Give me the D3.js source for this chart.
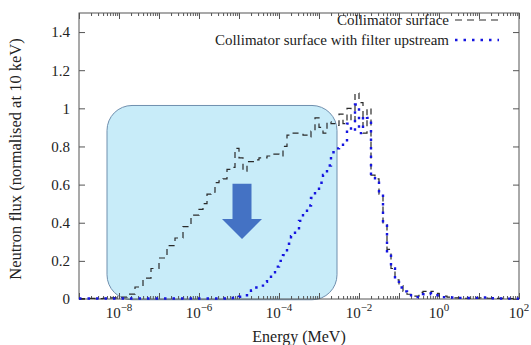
<!DOCTYPE html>
<html>
<head>
<meta charset="utf-8">
<script src="https://cdn.jsdelivr.net/npm/d3@7"></script>
<style>
  body { margin: 0; background: #fff; }
  text { font-family: "Liberation Serif", "Times New Roman", serif; fill: #222; }
</style>
</head>
<body>
<svg id="chart" width="531" height="345"></svg>
<script>
// bin lower edges, log10(E / MeV); last entry closes the final bin
const logEdges = [
  -9.0, -8.8, -8.6, -8.4, -8.2, -8.0, -7.8, -7.6, -7.4, -7.2, -7.0, -6.8, -6.6, -6.4, -6.2,
  -6.0, -5.9, -5.8, -5.7, -5.6, -5.5, -5.4, -5.3, -5.2, -5.1,
  -5.0, -4.9, -4.8, -4.7, -4.6, -4.5, -4.4, -4.3, -4.2, -4.1,
  -4.0, -3.9, -3.8, -3.7, -3.6, -3.5, -3.4, -3.3, -3.2, -3.1,
  -3.0, -2.9, -2.8, -2.7, -2.6, -2.5, -2.4, -2.3, -2.2, -2.1,
  -2.0, -1.9, -1.8, -1.7, -1.6, -1.5, -1.4, -1.3, -1.2, -1.1,
  -1.0, -0.9, -0.8, -0.7, -0.6, -0.5, -0.4, -0.3, -0.2, -0.1,
  0.0, 0.2, 0.4, 0.6, 0.8, 1.0, 1.2, 1.4, 1.6, 1.8, 2.0
];

const collimator = [
  0.002, 0.003, 0.002, 0.004, 0.006, 0.01, 0.026, 0.063, 0.11, 0.16, 0.215, 0.28, 0.32, 0.38, 0.44,
  0.47, 0.50, 0.55, 0.56, 0.61, 0.62, 0.63, 0.68, 0.69, 0.79,
  0.74, 0.67, 0.72, 0.72, 0.73, 0.74, 0.74, 0.75, 0.76, 0.76,
  0.75, 0.80, 0.86, 0.87, 0.87, 0.87, 0.86, 0.85, 0.88, 0.95,
  0.90, 0.87, 0.93, 0.92, 0.91, 0.97, 0.92, 1.00, 0.93, 1.08,
  1.03, 0.87, 1.00, 0.65, 0.63, 0.55, 0.39, 0.26, 0.16, 0.10,
  0.07, 0.04, 0.025, 0.015, 0.015, 0.035, 0.04, 0.03, 0.04, 0.03,
  0.015, 0.01, 0.006, 0.004, 0.004, 0.006, 0.004, 0.003, 0.002, 0.002
];

const withFilter = [
  0.003, 0.003, 0.003, 0.003, 0.003, 0.003, 0.003, 0.003, 0.003, 0.003, 0.003, 0.003, 0.003, 0.003, 0.003,
  0.003, 0.003, 0.003, 0.003, 0.003, 0.003, 0.003, 0.003, 0.005, 0.008,
  0.012, 0.02, 0.03, 0.045, 0.06, 0.07, 0.09, 0.11, 0.14, 0.17,
  0.20, 0.23, 0.29, 0.33, 0.36, 0.41, 0.45, 0.49, 0.53, 0.57,
  0.61, 0.65, 0.70, 0.77, 0.79, 0.80, 0.82, 0.92, 0.88, 1.02,
  0.87, 0.96, 0.95, 0.64, 0.62, 0.55, 0.40, 0.25, 0.16, 0.09,
  0.06, 0.04, 0.02, 0.012, 0.01, 0.02, 0.025, 0.03, 0.025, 0.02,
  0.01, 0.008, 0.006, 0.005, 0.006, 0.008, 0.004, 0.003, 0.002, 0.002
];

const seriesNames = ["Collimator surface", "Collimator surface with filter upstream"];
const yTicks = [0, 0.2, 0.4, 0.6, 0.8, 1, 1.2, 1.4];
const xDecades = [-9, -8, -7, -6, -5, -4, -3, -2, -1, 0, 1, 2];
const xLabelled = [-8, -6, -4, -2, 0, 2];

// highlighted region and arrow (data coordinates)
const boxE = [Math.pow(10, -8.3), Math.pow(10, -2.55)];
const boxV = [1.015, -0.004];
const arrowE = Math.pow(10, -4.925);
const arrowV = { top: 0.605, base: 0.42, tip: 0.315 };

const svg = d3.select("#chart");
const mLeft = 79, mRight = 519, mTop = 13, mBottom = 299;

const x = d3.scaleLog().domain([1e-9, 1e2]).range([mLeft, mRight]);
const y = d3.scaleLinear().domain([0, 1.5]).range([mBottom, mTop]);

// highlight box
svg.append("rect")
  .attr("x", x(boxE[0]))
  .attr("y", y(boxV[0]))
  .attr("width", x(boxE[1]) - x(boxE[0]))
  .attr("height", y(boxV[1]) - y(boxV[0]))
  .attr("rx", 25).attr("ry", 25)
  .attr("fill", "#c8ecf9")
  .attr("stroke", "#6f8fae")
  .attr("stroke-width", 1);

// arrow
const ax = x(arrowE);
const arrowPts = [
  [ax - 9.5, y(arrowV.top)], [ax + 9.5, y(arrowV.top)],
  [ax + 9.5, y(arrowV.base)], [ax + 20, y(arrowV.base)],
  [ax, y(arrowV.tip)],
  [ax - 20, y(arrowV.base)], [ax - 9.5, y(arrowV.base)]
];
svg.append("polygon")
  .attr("points", arrowPts.map(p => p.join(",")).join(" "))
  .attr("fill", "#4472c4");

// frame
svg.append("rect")
  .attr("x", mLeft).attr("y", mTop)
  .attr("width", mRight - mLeft).attr("height", mBottom - mTop)
  .attr("fill", "none").attr("stroke", "#555").attr("stroke-width", 1);

// ticks
const majorX = xDecades.map(d => Math.pow(10, d));
const minorX = [];
xDecades.slice(0, -1).forEach(d => {
  for (let k = 2; k < 10; k++) minorX.push(k * Math.pow(10, d));
});

function styleAxis(g) {
  g.select(".domain").remove();
  g.selectAll("line").attr("stroke", "#555");
}

svg.append("g").attr("transform", "translate(0," + mBottom + ")")
  .call(d3.axisBottom(x).tickValues(majorX).tickSize(-6).tickFormat(""))
  .call(styleAxis);
svg.append("g").attr("transform", "translate(0," + mBottom + ")")
  .call(d3.axisBottom(x).tickValues(minorX).tickSize(-3).tickFormat(""))
  .call(styleAxis);
svg.append("g").attr("transform", "translate(0," + mTop + ")")
  .call(d3.axisTop(x).tickValues(majorX).tickSize(-6).tickFormat(""))
  .call(styleAxis);
svg.append("g").attr("transform", "translate(0," + mTop + ")")
  .call(d3.axisTop(x).tickValues(minorX).tickSize(-3).tickFormat(""))
  .call(styleAxis);

const yAxis = svg.append("g").attr("transform", "translate(" + mLeft + ",0)")
  .call(d3.axisLeft(y).tickValues(yTicks).tickSize(-6).tickPadding(9).tickFormat(d3.format("")))
  .call(styleAxis);
yAxis.selectAll("text")
  .style("font-family", "'Liberation Serif', serif")
  .style("font-size", "15px")
  .attr("fill", "#222");
svg.append("g").attr("transform", "translate(" + mRight + ",0)")
  .call(d3.axisRight(y).tickValues(yTicks).tickSize(-6).tickFormat(""))
  .call(styleAxis);

// x tick labels with superscripts
xLabelled.forEach(d => {
  const t = svg.append("text")
    .attr("x", x(Math.pow(10, d)))
    .attr("y", 318)
    .attr("text-anchor", "middle")
    .style("font-size", "15px");
  t.append("tspan").text("10");
  t.append("tspan").attr("dy", -7).style("font-size", "11px")
    .text(d < 0 ? "\u2212" + (-d) : String(d));
});

// axis titles
svg.append("text")
  .attr("x", (mLeft + mRight) / 2)
  .attr("y", 342)
  .attr("text-anchor", "middle")
  .style("font-size", "16px")
  .text("Energy (MeV)");

svg.append("text")
  .attr("transform", "translate(21,159) rotate(-90)")
  .attr("text-anchor", "middle")
  .style("font-size", "16.5px")
  .text("Neutron flux (normalised at 10 keV)");

// histogram lines
function toPoints(values) {
  const pts = values.map((v, i) => [Math.pow(10, logEdges[i]), v]);
  pts.push([Math.pow(10, logEdges[values.length]), values[values.length - 1]]);
  return pts;
}
const line = d3.line()
  .x(d => x(d[0]))
  .y(d => y(d[1]))
  .curve(d3.curveStepAfter);

svg.append("path")
  .datum(toPoints(collimator))
  .attr("d", line)
  .attr("fill", "none")
  .attr("stroke", "#2a2a2a")
  .attr("stroke-width", 1.2)
  .attr("stroke-dasharray", "6,5");

svg.append("path")
  .datum(toPoints(withFilter))
  .attr("d", line)
  .attr("fill", "none")
  .attr("stroke", "#1515e0")
  .attr("stroke-width", 2.4)
  .attr("stroke-dasharray", "2.5,6");

// legend
const legend = [
  { name: seriesNames[0], y: 20, stroke: "#2a2a2a", w: 1.2, dash: "7,5" },
  { name: seriesNames[1], y: 40, stroke: "#1515e0", w: 2.4, dash: "2.5,6" }
];
legend.forEach(l => {
  svg.append("text")
    .attr("x", 449).attr("y", l.y + 5)
    .attr("text-anchor", "end")
    .style("font-size", "15px")
    .text(l.name);
  svg.append("line")
    .attr("x1", 455).attr("x2", 499)
    .attr("y1", l.y).attr("y2", l.y)
    .attr("stroke", l.stroke)
    .attr("stroke-width", l.w)
    .attr("stroke-dasharray", l.dash);
});
</script>
</body>
</html>
